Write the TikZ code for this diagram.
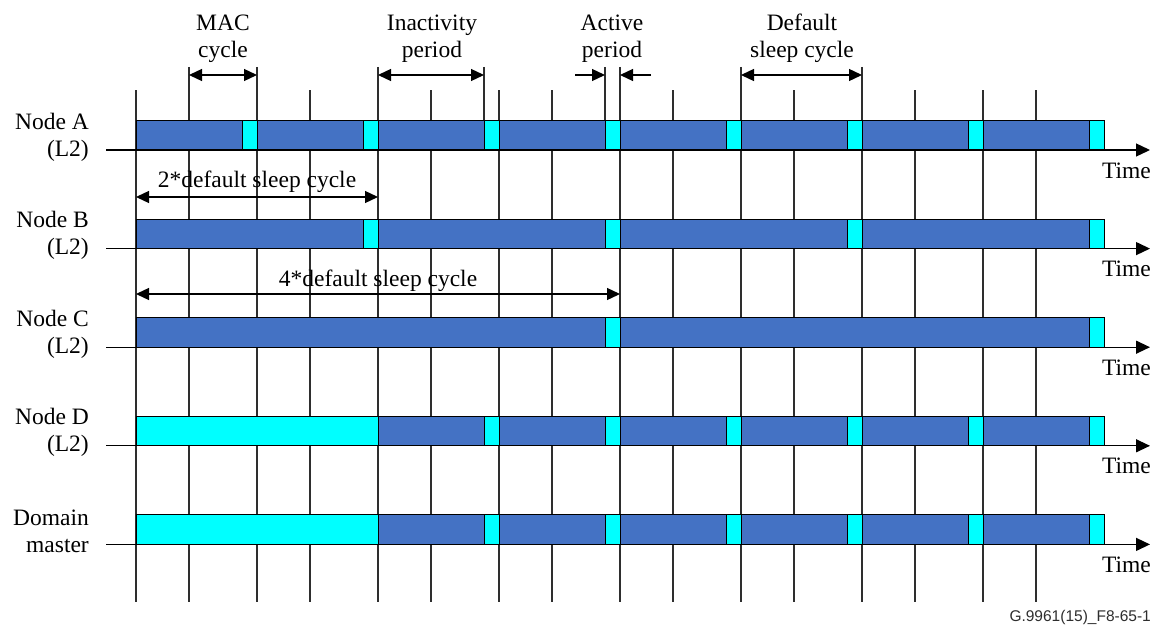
\documentclass[tikz,border=0pt]{standalone}
\usepackage{fontspec}
\setmainfont{Liberation Serif}
\usetikzlibrary{arrows.meta,positioning,calc}
\definecolor{lpsleep}{HTML}{4472C4}
\definecolor{lpawake}{HTML}{00FFFF}
\definecolor{lpgray}{HTML}{2E2E2E}
\tikzset{
  lp/sleep/.style={draw=black, fill=lpsleep, line width=0.9pt},
  lp/awake/.style={draw=black, fill=lpawake, line width=0.9pt},
  lp/grid/.style={draw=lpgray, line width=1.3pt},
  lp/axis/.style={-{Triangle[length=14pt,width=13pt]}, line width=1.3pt},
  lp/dim/.style={{Triangle[length=13pt,width=12pt]}-{Triangle[length=13pt,width=12pt]}, line width=1.3pt},
  lp/tip/.style={-{Triangle[length=13pt,width=12pt]}, line width=1.3pt},
  lp/label/.style={align=right, inner sep=0pt, anchor=east},
  lp/head/.style={align=center, inner sep=0pt, anchor=south},
  lp/time/.style={inner sep=0pt, anchor=base east},
  lp/span/.style={inner sep=0pt, anchor=base}
}

\begin{document}
\begin{tikzpicture}[x=1pt, y=-1pt, font=\fontsize{23.5}{27}\selectfont]
  \useasboundingbox (0,0) rectangle (1156,626);

  \foreach \x in {136,310,431,499,552,673,794,915,983,1036}
    \draw[lp/grid] (\x,90) -- (\x,602);
  \foreach \x in {189,257,378,620,741,862}
    \draw[lp/grid] (\x,67) -- (\x,602);
  \foreach \x in {484,605}
    \draw[lp/grid] (\x,67) -- (\x,120);

  \draw[lp/sleep] (136,120.5) rectangle (1104,150);
  \foreach \k in {1,...,8}
    \draw[lp/awake] ({121*\k+121},120.5) rectangle ({121*\k+136},150);

  \draw[lp/sleep] (136,219) rectangle (1104,248.6);
  \foreach \k in {2,4,6,8}
    \draw[lp/awake] ({121*\k+121},219) rectangle ({121*\k+136},248.6);

  \draw[lp/sleep] (136,317.7) rectangle (1104,347.2);
  \foreach \k in {4,8}
    \draw[lp/awake] ({121*\k+121},317.7) rectangle ({121*\k+136},347.2);

  \draw[lp/sleep] (136,416.3) rectangle (1104,445.8);
  \draw[lp/awake] (136,416.3) rectangle (378,445.8);
  \foreach \k in {3,...,8}
    \draw[lp/awake] ({121*\k+121},416.3) rectangle ({121*\k+136},445.8);

  \draw[lp/sleep] (136,514.9) rectangle (1104,544.4);
  \draw[lp/awake] (136,514.9) rectangle (378,544.4);
  \foreach \k in {3,...,8}
    \draw[lp/awake] ({121*\k+121},514.9) rectangle ({121*\k+136},544.4);

  \foreach \n/\y/\txt in {a/150/{Node A\\(L2)}, b/248.6/{Node B\\(L2)},
      c/347.2/{Node C\\(L2)}, d/445.8/{Node D\\(L2)}, dm/544.4/{Domain\\master}} {
    \coordinate (ax-\n-s) at (106,\y);
    \coordinate (ax-\n-e) at (1150,\y);
    \draw[lp/axis] (ax-\n-s) -- (ax-\n-e);
    \node[lp/label] (lbl-\n) at (89,\y-13) {\txt};
    \node[lp/time] (time-\n) at (1151,\y+28) {Time};
  }

  \node[lp/head] (mac) at (223,63) {MAC\\cycle};
  \node[lp/head] (inact) at (432,63) {Inactivity\\period};
  \node[lp/head] (act) at (612,63) {Active\\period};
  \node[lp/head] (dflt) at (802,63) {Default\\sleep cycle};

  \coordinate (mac-l) at (189,75);
  \coordinate (mac-r) at (257,75);
  \coordinate (inact-l) at (378,75);
  \coordinate (inact-r) at (484,75);
  \coordinate (act-l) at (605,75);
  \coordinate (act-r) at (620,75);
  \coordinate (act-lo) at (575,75);
  \coordinate (act-ro) at (651,75);
  \coordinate (dflt-l) at (741,75);
  \coordinate (dflt-r) at (862,75);
  \draw[lp/dim] (mac-l) -- (mac-r);
  \draw[lp/dim] (inact-l) -- (inact-r);
  \draw[lp/tip] (act-lo) -- (act-l);
  \draw[lp/tip] (act-ro) -- (act-r);
  \draw[lp/dim] (dflt-l) -- (dflt-r);

  \coordinate (two-l) at (136,197);
  \coordinate (two-r) at (378,197);
  \coordinate (four-l) at (136,294);
  \coordinate (four-r) at (620,294);
  \draw[lp/dim] (two-l) -- (two-r);
  \draw[lp/dim] (four-l) -- (four-r);
  \node[lp/span] (two) at (257,187) {2*default sleep cycle};
  \node[lp/span] (four) at (378,286) {4*default sleep cycle};

  \node[inner sep=0pt, anchor=base east, text=lpgray,
    font=\fontspec{Liberation Sans}\fontsize{15.5}{18}\selectfont] (fig) at (1151,621)
    {G.9961(15)\_F8-65-1};
\end{tikzpicture}
\end{document}
